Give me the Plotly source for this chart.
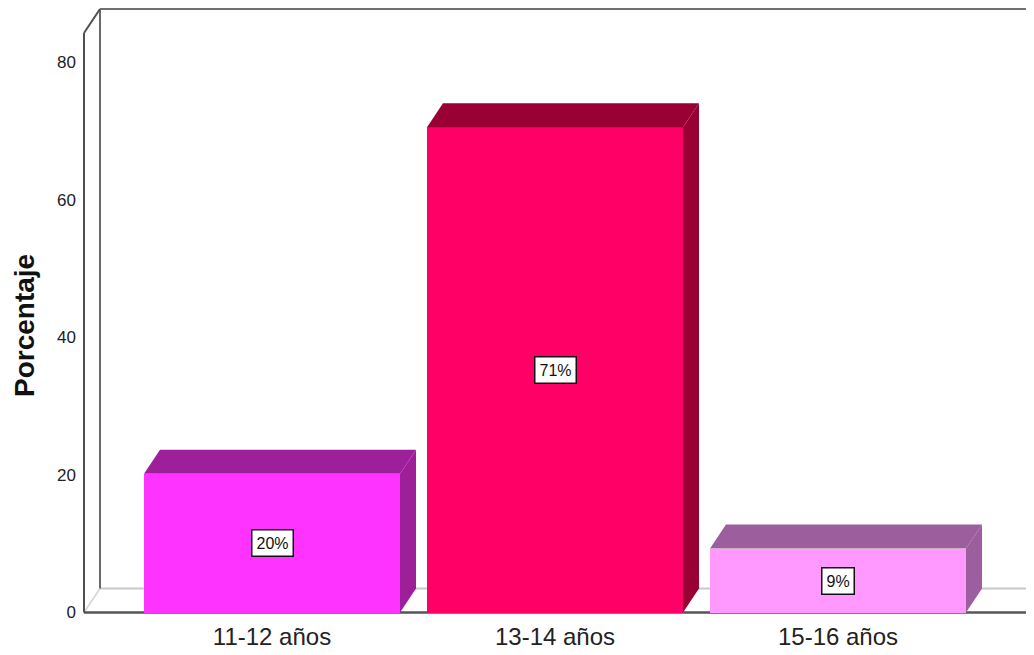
import plotly.graph_objects as go

categories = ["11-12 años", "13-14 años", "15-16 años"]
values = [20.2, 70.6, 9.3]
front_colors = ["#FF33FF", "#FF0066", "#FF99FF"]
side_colors = ["#9E1F9A", "#990033", "#9C5E9C"]
y_ticks = [0, 20, 40, 60, 80]
y_title = "Porcentaje"

FONT = "Liberation Sans, Arial, sans-serif"
OFF = 8  # page body margin
W, H = 1034 - OFF, 655 - OFF
ML, MR, MT, MB = 32, 0, 0, 35
PX_PER_CAT = 283.0
CAT0_PX = 272.0 - OFF
PX_PER_UNIT = 6.875
ZERO_PX = 612.5 - OFF

x_lo = (ML - CAT0_PX) / PX_PER_CAT
x_hi = (W - MR - CAT0_PX) / PX_PER_CAT
y_hi = (ZERO_PX - MT) / PX_PER_UNIT
y_lo = (ZERO_PX - (H - MB)) / PX_PER_UNIT

dx = 16 / PX_PER_CAT
dy = 24 / PX_PER_UNIT
bar_w = 256 / PX_PER_CAT

fx = (84 - OFF - CAT0_PX) / PX_PER_CAT
bx = fx + dx
front_top = 84.3
right_fx = (1027 - OFF - CAT0_PX) / PX_PER_CAT

xs = list(range(len(categories)))

fig = go.Figure()
fig.add_trace(go.Bar(x=xs, y=values, width=bar_w, marker=dict(color=front_colors, line=dict(width=0)),
                     showlegend=False, hoverinfo="skip"))

for i, v in enumerate(values):
    x0 = xs[i] - bar_w / 2
    x1 = xs[i] + bar_w / 2
    # top face
    fig.add_trace(go.Scatter(x=[x0, x0 + dx, x1 + dx, x1, x0], y=[v, v + dy, v + dy, v, v],
                             fill="toself", fillcolor=side_colors[i], mode="lines",
                             line=dict(width=0, color=side_colors[i]), showlegend=False, hoverinfo="skip"))
    # side face
    fig.add_trace(go.Scatter(x=[x1, x1 + dx, x1 + dx, x1, x1], y=[v, v + dy, dy, 0, v],
                             fill="toself", fillcolor=side_colors[i], mode="lines",
                             line=dict(width=0, color=side_colors[i]), showlegend=False, hoverinfo="skip"))

shapes = []
def seg(x0, y0, x1, y1, color, w=2):
    shapes.append(dict(type="line", xref="x", yref="y", x0=x0, y0=y0, x1=x1, y1=y1,
                       line=dict(color=color, width=w), layer="below"))

# back wall / floor (light)
seg(bx, dy, x_hi + 1, dy, "#c8c8c8", 2)
seg(fx, 0, bx, dy, "#d4d4d4", 1.5)
seg(bx, dy, bx, front_top + dy, "#6a6a6a", 2)
seg(bx, front_top + dy, x_hi + 1, front_top + dy, "#707070", 2)
# front
seg(fx, 0, fx, front_top, "#505050", 2)
seg(fx, front_top, bx, front_top + dy, "#505050", 2)
seg(fx, 0, right_fx, 0, "#555555", 2.5)
seg(right_fx, 0, right_fx + dx, dy, "#555555", 2)

annotations = []
for i, v in enumerate(values):
    annotations.append(dict(x=xs[i], y=v / 2, xref="x", yref="y", text=f"{round(v)}%", showarrow=False,
                            font=dict(family=FONT, size=16, color="#111111"), bgcolor="white",
                            bordercolor="#111111", borderwidth=1.5, borderpad=4))

# y-axis title
annotations.append(dict(x=(24 - OFF - ML) / (W - ML - MR), y=(ZERO_PX - (326 - OFF)) / PX_PER_UNIT,
                        xref="paper", yref="y", xanchor="center", yanchor="middle",
                        text=f"<b>{y_title}</b>", textangle=-90, showarrow=False,
                        font=dict(family=FONT, size=28, color="#111111")))

fig.update_layout(
    width=W, height=H,
    margin=dict(l=ML, r=MR, t=MT, b=MB),
    plot_bgcolor="white", paper_bgcolor="white",
    shapes=shapes, annotations=annotations,
    bargap=0,
    xaxis=dict(range=[x_lo, x_hi], tickvals=xs, ticktext=categories, showgrid=False, zeroline=False,
               showline=False, ticks="", tickfont=dict(family=FONT, size=24, color="#222222"), domain=[0, 1]),
    yaxis=dict(range=[y_lo, y_hi], tickvals=y_ticks, showgrid=False, zeroline=False, showline=False,
               ticks="", anchor="free", position=(84 - OFF - ML) / (W - ML - MR),
               tickfont=dict(family=FONT, size=17, color="#222222"), ticklabelstandoff=8),
)

fig.write_html("out.html")
